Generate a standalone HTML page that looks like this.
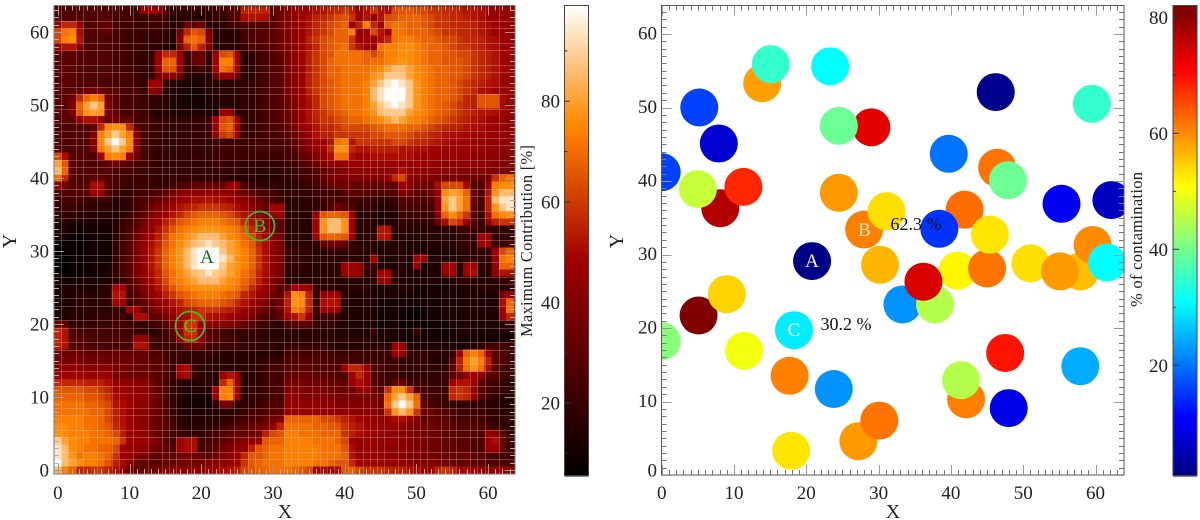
<!DOCTYPE html>
<html>
<head>
<meta charset="utf-8">
<title>Contribution map and contamination scatter</title>
<style>
html,body{margin:0;padding:0;background:#fff;width:1200px;height:520px;overflow:hidden}
svg{display:block;font-family:"Liberation Serif",serif;fill:#222}
</style>
</head>
<body>
<svg id="fig" width="1200" height="520" viewBox="0 0 1200 520" xmlns="http://www.w3.org/2000/svg">
  <defs><clipPath id="scatterClip"><rect x="661" y="5" width="463" height="470"/></clipPath></defs>
  <rect x="0" y="0" width="1200" height="520" fill="#fff"/>
  <rect x="54" y="5.5" width="461" height="469" fill="#600000"/>
  <g id="heatCells" shape-rendering="crispEdges"></g>
  <g id="heatGrid" shape-rendering="crispEdges"></g>
  <g id="dots" clip-path="url(#scatterClip)"></g>
  <g id="cbLeft" shape-rendering="crispEdges"></g>
  <g id="cbRight" shape-rendering="crispEdges"></g>
  <rect x="54" y="5.5" width="461" height="468.5" fill="none" stroke="#777" stroke-width="1"/>
  <rect x="661.5" y="5.5" width="462.5" height="469.5" fill="none" stroke="#555" stroke-width="1"/>
  <rect x="564.5" y="5.5" width="24" height="470" fill="none" stroke="#444" stroke-width="1"/>
  <rect x="1173" y="5.5" width="24" height="470" fill="none" stroke="#444" stroke-width="1"/>
  <g id="ticks"></g>
  <g id="labels" font-size="19"></g>

  <text x="285" y="518" font-size="20" text-anchor="middle">X</text>
  <text x="893" y="518" font-size="20" text-anchor="middle">X</text>
  <text transform="translate(16,241) rotate(-90)" font-size="20" text-anchor="middle">Y</text>
  <text transform="translate(623,241) rotate(-90)" font-size="20" text-anchor="middle">Y</text>
  <text transform="translate(532,337) rotate(-90)" font-size="16.5" textLength="192" lengthAdjust="spacing">Maximum Contribution [%]</text>
  <text transform="translate(1142,307) rotate(-90)" font-size="16.5" textLength="135" lengthAdjust="spacing">% of contamination</text>

  <text x="207" y="263" font-size="19" text-anchor="middle" style="fill:#0a6a12">A</text>
  <circle cx="260" cy="226" r="14.5" fill="none" stroke="#3fc01e" stroke-width="1.7"/>
  <text x="260" y="232" font-size="19" text-anchor="middle" style="fill:#3fc01e">B</text>
  <circle cx="190" cy="326" r="14.5" fill="none" stroke="#3fc01e" stroke-width="1.7"/>
  <text x="190" y="332" font-size="19" text-anchor="middle" style="fill:#3fd01e">C</text>

  <text x="812" y="267" font-size="19" text-anchor="middle" style="fill:#fff">A</text>
  <text x="864.5" y="236" font-size="19" text-anchor="middle" style="fill:#ffe9c0">B</text>
  <text x="794" y="336" font-size="19" text-anchor="middle" style="fill:#fff">C</text>
  <text x="890.5" y="230" font-size="18" style="fill:#111">62.3 %</text>
  <text x="820.5" y="330" font-size="18" style="fill:#111">30.2 %</text>
</svg>
<script>
// Heatmap: one row per Y (63 at top, 0 at bottom), one base-36 level per X column.
var heatmapRows = [
"88888888 7777hih7 55555566 88lmml9b dfhhjklm nlgknkjo ppoonnmm lkkjihgg",
"88888898 77766777 44444455 88jkkj9b dghjlmno pnhkgkop qqqponnm mlkjihhg",
"hmmf899a 77666666 44b9b444 7788889b dfhkmnop qhlsmhqr rqqponnm mmlkjigg",
"orsj8899 77666555 4bmpoc44 4477889b dfhkmnoq qsghokhr rqqqponn mmlkjhhg",
"ostk8888 77665555 4dqrqe44 4478899b dfilnopq qnhihkmr ssrqqpoo nmmlkjhg",
"gkkd8888 77665544 3clplc44 4468899b dfikmopq rnkhhrss ttsrqqpo nnmlkjhh",
"99988888 776655gm mg5aa5go pg446789 cfilnopr rrrqoqss ttsrqqpp oonmlkih",
"99988888 776655iq qi5ab5is si446789 cfilnoqr rrrqrrst utsrqqpp ponmlkih",
"99988888 776655hp ph5575hr qh446789 cfhlnoqq rrrrstvw wvtsrqqp ponmlkih",
"99988888 777655bf fb4444bh hb446789 cehlnoqq rrrruvxx xvtsrqqp ponmlkih",
"99988888 77765hi5 43333444 44556789 cehlnopq rrrsvxyz yxusrqqp onmlkjhg",
"9999bcb9 97775ed4 33222334 44556789 cehlnopq rrrswyzz zxusrqqp onmjjhhg",
"99bmqsqb 97776554 33222334 44556789 cehkmopq rrrswyzz zxusrqqp omlpppjg",
"99dqvxvd 97776554 33222334 44556789 bdgjmopq rrrsvxyz yxusrqpo nmlpppjg",
"99cpuvuc 97776544 3333333h h4556789 bdgkmnop qrrsuwxx xvtsrqpo nmlkkjig",
"99agkkga cab77655 555556ho ph556789 bdgjlnno pqqrstvw vtsrqpon mlkjihgf",
"88888amt utma7665 555556hp qh556788 acfikmmn oooopqrr rqqponml lkjjihgf",
"88888dsv xvsd7665 555556gn og556778 9bdhjlln nnnnoopp ponnmlkj jiiihggf",
"88888etx zxte7655 55555566 66667777 8acfigkr sknnnnno onmmlkji ihhhggff",
"88888dsv xvsd7655 55555566 66667777 79bdfimu umkkllll kkjjiihh hgggffee",
"oj9888hs tshb7655 55555566 66666666 779bdgjr rjiijjjj jjiihhgg ggffeedd",
"vp98888a ca877655 55555566 55555555 6689bdef gghhhhhh hhgggfff eeeeeddd",
"wq988888 77776655 55555555 55444444 55678abc deeeeeef jgfeeeee dddddccc",
"rm988aa8 77666655 55555555 44444444 55678abc ddddddgm ogdddcbc cbbbcnqr",
"ec889jj9 76666655 7889aaaa hh766555 445678ab bbaaaa99 hecbbjoo oj88hstt",
"88889hh9 65567789 cdefggff ecb98775 55556666 99998888 dc99bgtv uqb8kuww",
"77776666 345789ac egijjkjj hgeca876 44455677 77666555 88888gvx vrb7lwyy",
"66655555 34579bdf iklmnnnm ljhecaii 4445558c a8555444 77777gux vra7luxy",
"55544444 3468acfi kmopqqqp omkiecgh 4444hpqq ph444333 66666fqt qn96jrtu",
"44333333 3579ceil npqrsssr qpmkheb9 4444iuww ui444333 55555bjo nh85flnn",
"33222222 468adgkn prstuuut srpmjgc9 4444iuww ui444kk3 44444455 66665555",
"22111222 468beilo rsuvwwwv tsqolhdb 4444hpqq ph444kk3 33444444 555ii555",
"11111222 579cfjmp rtvwxyxw vtrpmjec 44445abb a5444443 33333444 555ii566",
"01111222 579cgknq suwyzzzx vusqnjfc 66554455 55444333 33333333 44556hoq",
"00111222 579cgknq suwyzzzy wusqnjfc 55544444 4444i433 33gi3333 44455hrs",
"00111222 579cgknq suwyzzzx vusqnjfc 55544445 hih66433 33g333hi 4hi44gqq",
"11112223 579cfjmp rtvwxyxw vtrpmjec 44444445 hih55ii4 333333hi 4ij44fkk",
"22223333 468beilo rsuvwwwv tsqolhdb 44444444 44444gg4 33333333 44444455",
"33333344 ii8adgkn prstuuut srpmjgc9 9iih5444 44443333 33322223 33344445",
"33344444 kk79ceil npqrsssr qpmkheb9 ktsl5hih 43333333 22222233 333333cg",
"33344444 ii68acfi kmopqqqp omkiec9c lutm5jkj 43333222 22222233 333333jq",
"33344444 55ii9bdf iklmnnnm ljheca8b ksrl5ihh 33332222 11112233 333333ir",
"33444555 665jjaac eijnnkjj hgeca87a iknh5765 33332222 11112233 333333hm",
"a9555566 77665679 chnnhfee dca87654 89a96554 33332222 11111223 33333346",
"mk777777 77665456 9hnnh987 66665544 54444443 33336332 22622222 33333333",
"mk888777 777gg766 8gmmg987 66555444 44444444 44443333 22222222 22222222",
"lk888777 777kk766 66bbb766 66555554 55555544 4444444h i3333333 23456776",
"bbbbaaaa aaaaa887 66555554 44444444 77777766 6666666g h5554445 hqsqh986",
"ccccbbbb bbbaa997 65555444 44445556 88888877 77666666 55554448 lsvsl986",
"ffffeeee ccbbaa98 6ij65444 44445677 99998888 hmmh8766 55555459 lrurj976",
"iiiihhhg ccbbba98 6ij6444g kg445677 aaaa9988 8imi8766 55555569 bgig9976",
"mmmmlllj gfeedc97 5433444m qh445677 cccbbbaa 9hjh986a a666555h kkh97654",
"ppppoonm ihgfeca8 543333gs sh455677 dddcccbb bbhhb9nt tn97666m nmh97654",
"qqqqppon jigfeda8 542222hs th455677 eeddddcc cccccbqv xvq8766m nmg86543",
"rrrrqqpo kjhfeca8 5422224c c4556788 gggffeed dddddbrx zxr97665 55554433",
"rrrrrqqo ljhfeca9 54333334 45677899 hhhhggff ffeeecnu wunbb988 66665544",
"ssssrrqo lkhfdca9 64333444 56788abd qqqqqoon lkigfehj jhd9a998 77776555",
"ttssrrqp mkifeca9 75444456 789abcfm rrrrqqpp nlkihgfe ddcbbaa9 88887655",
"ttsssrrq oligfca9 76555678 9aabclop ssrrrqqq nljihgfe ddccbbaa 9888ffa5",
"xvtssrrr qniigec9 7ijj6789 bcdfgpqq ssssrrrq oifhgfee ddccbbaa 9988hjb6",
"ywtsrrqq oigfecaa 8ijj789b deglpqrr sssssrrr pjfghfed ddccbbaa 9988hha6",
"ywurssrq nhgdca9b 9bcba9bd fgmppqrr sssssrrr qkhhggfe ddcccbba aa998776",
"zwvtssrp ljeba99a abcccdef ghnpqrrr ssssrrqp pmiihhgf eedddccb aa998887",
"wsqmmnnm jfbaabcd efffghij klopqqrr rqpoijhj pqonnnml lkjiimnl ijhggggf"
];
// Intensity assigned to each base-36 level (0-9, a-z), out of 35.
var levelScale = [0,1,2,3,4,5,6,7,8,9,10,11,12,13,14,14.5,15,15.5,16,17,17.5,18.5,19,20,21.5,22.5,23.5,24.5,25.5,26.5,27,28,30,31,33,35];
// Scatter points, listed in drawing order.
var dotX = [13.9,15.1,23.3,5.2,7.9,0,8.1,5.0,11.3,29.0,24.5,24.5,28.0,31.1,20.8,46.2,59.5,39.7,46.4,47.9,55.3,62.2,41.9,38.4,30.2,33.3,37.8,40.9,36.2,45.0,45.4,51.0,57.9,55.1,59.6,61.6,5.1,9.0,0,18.3,11.4,17.7,23.8,17.9,27.2,30.1,42.1,41.4,47.5,48.0,57.9];
var dotY = [53.3,55.9,55.6,50.0,45.1,41.2,36.3,38.9,39.2,47.3,47.5,38.4,33.4,35.9,29.1,52.1,50.5,43.7,41.8,40.1,36.9,37.4,36.1,33.5,28.6,23.2,23.2,27.8,26.3,28.1,32.7,28.8,27.7,27.7,31.3,28.9,21.7,24.6,18.2,19.7,16.9,13.5,11.7,3.3,4.6,7.4,10.3,12.9,16.6,9.1,14.8];
var dotValue = [58.5,35,31,16,7.3,16,77,46.5,68,73,39.5,59,61,53.5,1.5,2,35,20,62,39.5,10,6,62.5,15,56.7,22.5,45,51.6,74,62,53,53.5,56,59,60,31,81,54.5,41.5,29.5,50,61,22.5,53,59,62,61,45,69.5,9,24.5];
// Axis tick labels.
var axisTickValues = [0,10,20,30,40,50,60];
var contributionTicks = [20,40,60,80];
var contributionMinorTicks = [10,30,50,70,90];
var contaminationTicks = [20,40,60,80];
var contaminationMinorTicks = [30,50,70];
// Value ranges of the colour scales.
var contributionRange = [5.5,99];
var contaminationRange = [1,82];

var NS = 'http://www.w3.org/2000/svg';
function make(tag, parent, attrs){
  var el = document.createElementNS(NS, tag);
  for (var k in attrs) el.setAttribute(k, attrs[k]);
  parent.appendChild(el);
  return el;
}
function clip01(v){ return Math.max(0, Math.min(1, v)); }
function rgb(r,g,b){ return 'rgb('+Math.round(r*255)+','+Math.round(g*255)+','+Math.round(b*255)+')'; }
function heatColor(v){
  var t = clip01((v-contributionRange[0])/(contributionRange[1]-contributionRange[0]));
  return rgb(clip01(t/0.73), clip01((t-0.46)/0.54), clip01((t-0.75)/0.25));
}
function jetColor(v){
  var t = clip01((v-contaminationRange[0])/(contaminationRange[1]-contaminationRange[0]-1));
  return rgb(clip01(1.5-Math.abs(4*t-3)), clip01(1.5-Math.abs(4*t-2)), clip01(1.5-Math.abs(4*t-1)));
}
// Axis functions
function heatX(v){ return 57.9+7.17*v; }
function heatY(v){ return 470-7.3*v; }
function dotXpx(v){ return 661.7+7.23*v; }
function dotYpx(v){ return 475-7.35*v; }
function cbLeftY(v){ return 403-5.03*(v-20); }
function cbRightY(v){ return 365.3-5.8*(v-20); }
function levelToValue(l){ return contributionRange[0]+(levelScale[l]/35)*(contributionRange[1]-contributionRange[0]); }

// Heatmap cells
var heatG = document.getElementById('heatCells');
heatmapRows.forEach(function(row, i){
  var chars = row.replace(/ /g,'');
  var yVal = 63-i;
  for (var c=0; c<chars.length; c++){
    var cell = make('rect', heatG, {x:heatX(c-0.5), y:heatY(yVal+0.5), width:7.17+0.6, height:7.3+0.6, fill:heatColor(levelToValue(parseInt(chars[c],36)))});
    
    
  }
});

// Grid overlay
var gridG = document.getElementById('heatGrid');
var gridCols = [1,3,4,6,8,9,11,13,15,16,17,19,21,22,23,25,27,28,30,32,33,34,36,37,38,39,41,43,44,45,46,48,49,50,51,52,54,55,56,58,59,60,62];
var gridRows = [2,3,5,6,8,9,11,12,14,15,17,18,20,21,23,24,26,27,29,30,32,33,35,36,38,39,41,42,43,45,46,47,48,50,52,53,55,56,58,59,61,62];
gridCols.forEach(function(c){
  var x = Math.round(heatX(c-0.5));
  var ln = make('line', gridG, {x1:x+0.5, x2:x+0.5, y1:6, y2:474, stroke:'#ffd8d8', 'stroke-opacity':0.27, 'stroke-width':1});
  
  
});
gridRows.forEach(function(r){
  var y = Math.round(heatY(r-0.5));
  var ln = make('line', gridG, {x1:54, x2:515, y1:y+0.5, y2:y+0.5, stroke:'#ffd8d8', 'stroke-opacity':0.27, 'stroke-width':1});
  
  
});

// Scatter points
var dotsG = document.getElementById('dots');
dotX.forEach(function(x, i){
  var dot = make('circle', dotsG, {cx:dotXpx(x), cy:dotYpx(dotY[i]), r:19, fill:jetColor(dotValue[i])});
  
  
});

// Colour bars
var cbL = document.getElementById('cbLeft');
for (var py=5; py<476; py+=1){
  var bandL = make('rect', cbL, {x:564.5, y:py, width:24, height:1.5, fill:heatColor(20+(403-py)/5.03)});
  
  
}
var cbR = document.getElementById('cbRight');
for (var qy=5; qy<476; qy+=1){
  var bandR = make('rect', cbR, {x:1173, y:qy, width:24, height:1.5, fill:jetColor(20+(365.3-qy)/5.8)});
  
  
}

// Ticks
var tG = document.getElementById('ticks');
function tick(x1,y1,x2,y2,color,w){
  var t = make('line', tG, {x1:x1,y1:y1,x2:x2,y2:y2,stroke:color,'stroke-width':w||1});
  
  
}
function frameTicks(xf, yf, left, right, top, bottom, color){
  for (var v=0; v<=63; v++){
    var major = v%10===0, len = major?10:5, col = major?'#999':color;
    var px = Math.round(xf(v))+0.5;
    tick(px,bottom,px,bottom-len,col);
    tick(px,top,px,top+len,col);
    var py = Math.round(yf(v))+0.5;
    tick(left,py,left+len,py,col);
    tick(right,py,right-len,py,col);
  }
}
frameTicks(heatX, heatY, 54, 515, 5.5, 474, '#b8a8a8');
frameTicks(dotXpx, dotYpx, 661.5, 1124, 5.5, 475, '#777');
contributionTicks.forEach(function(v){ tick(564.5,cbLeftY(v),570,cbLeftY(v),'#333'); });
contributionMinorTicks.forEach(function(v){ tick(564.5,cbLeftY(v),567.5,cbLeftY(v),'#333'); });
contaminationTicks.forEach(function(v){ tick(1173,cbRightY(v),1179,cbRightY(v),'#333'); });
contaminationMinorTicks.forEach(function(v){ tick(1173,cbRightY(v),1176,cbRightY(v),'#333'); });

// Tick labels
var lG = document.getElementById('labels');
function label(str,x,y,anchor){
  var t = make('text', lG, {x:x,y:y,'text-anchor':anchor});
  t.textContent = str;
  
  
}
axisTickValues.forEach(function(v){
  label(String(v), heatX(v), 499, 'middle');
  label(String(v), 49, heatY(v)+6.5, 'end');
  label(String(v), dotXpx(v), 499, 'middle');
  label(String(v), 657, v===0 ? 476.5 : dotYpx(v)+5.5, 'end');
});
contributionTicks.forEach(function(v){ label(String(v), 560, cbLeftY(v)+6.5, 'end'); });
contaminationTicks.forEach(function(v){ label(String(v), 1168, cbRightY(v)+6.5, 'end'); });
</script>
</body>
</html>
